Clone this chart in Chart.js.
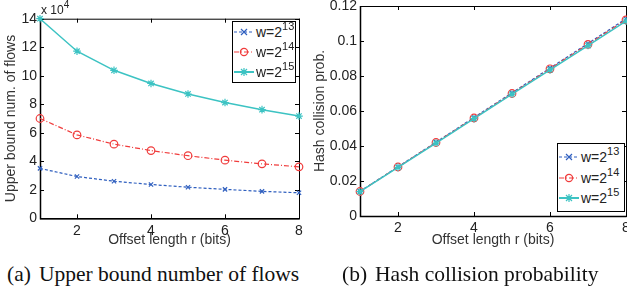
<!DOCTYPE html>
<html lang="en">
<head>
<meta charset="UTF-8">
<title>Upper bound flows / hash collision probability</title>
<script src="https://cdn.jsdelivr.net/npm/chart.js"></script>
<style>
  body {
    margin: 0;
    width: 627px;
    height: 295px;
    overflow: hidden;
    position: relative;
    background: #fff;
    font-family: Arial, 'Liberation Sans', sans-serif;
    color: #222;
  }
  canvas { position: absolute; top: -10px; }
  #flowsChart { left: 0; }
  #collChart { left: 306px; }
  .legend {
    position: absolute;
    background: #fff;
    border: 1px solid #000;
    box-sizing: border-box;
    z-index: 2;
  }
  .legend .row {
    position: absolute;
    left: 1px;
    height: 20px;
    display: flex;
    align-items: center;
    font-size: 14px;
    white-space: nowrap;
  }
  .legend svg { margin-right: 2px; }
  sup { font-size: 11px; line-height: 0; position: relative; top: -1px; }
  .scale-note {
    position: absolute;
    left: 41px;
    top: 3px;
    font-size: 12px;
    color: #222;
  }
  .scale-note sup { font-size: 10px; }
  .caption {
    position: absolute;
    top: 263.5px;
    font-family: 'Times New Roman', 'Liberation Serif', serif;
    font-size: 21.5px;
    line-height: 21.5px;
    color: #111;
    white-space: nowrap;
  }
  .caption .tag { margin-right: 8px; }
</style>
</head>
<body>

<canvas id="flowsChart" width="320" height="265"></canvas>
<canvas id="collChart" width="330" height="265"></canvas>

<div class="scale-note">x 10<sup>4</sup></div>

<div class="legend" id="legendA" style="left:232px; top:21px; width:64px; height:62px;"></div>
<div class="legend" id="legendB" style="left:557px; top:143px; width:68px; height:69px;"></div>

<div class="caption" style="left:7px;"><span class="tag">(a)</span>Upper bound number of flows</div>
<div class="caption" style="left:342px;"><span class="tag">(b)</span>Hash collision probability</div>

<script>
  // offset length r (bits)
  const rBits = [1, 2, 3, 4, 5, 6, 7, 8];
  const xTicks = [2, 4, 6, 8];

  // upper bound number of flows (x 10^4)
  const flowsW13 = [3.50, 2.93, 2.60, 2.37, 2.18, 2.03, 1.89, 1.79];
  const flowsW14 = [7.00, 5.85, 5.20, 4.75, 4.39, 4.08, 3.82, 3.61];
  const flowsW15 = [14.0, 11.72, 10.38, 9.46, 8.72, 8.12, 7.62, 7.17];

  // hash collision probability
  const collW13 = [0.0141, 0.0281, 0.0422, 0.0563, 0.0704, 0.0845, 0.0986, 0.1127];
  const collW14 = [0.0140, 0.0280, 0.0420, 0.0560, 0.0700, 0.0841, 0.0981, 0.1121];
  const collW15 = [0.0139, 0.0278, 0.0417, 0.0556, 0.0696, 0.0835, 0.0974, 0.1113];

  const seriesExp = ['13', '14', '15'];
  const seriesColor = ['#2f5fbf', '#f03c3c', '#3cc3c3'];
  const seriesDash = [[3, 2], [5, 2, 1, 2], []];
  const seriesPoint = ['crossRot', 'circle', 'star'];

  // box round the plot area with inward ticks on all four sides
  const framePlugin = {
    id: 'frame',
    beforeDatasetsDraw(chart) {
      const { ctx, chartArea: a, scales: { x, y } } = chart;
      const tl = 4;
      ctx.save();
      ctx.strokeStyle = '#000';
      ctx.lineWidth = 1;
      ctx.strokeRect(a.left + 0.5, a.top + 0.5, a.right - a.left, a.bottom - a.top);
      ctx.beginPath();
      x.ticks.forEach(t => {
        const px = Math.round(x.getPixelForValue(t.value)) + 0.5;
        ctx.moveTo(px, a.bottom); ctx.lineTo(px, a.bottom - tl);
        ctx.moveTo(px, a.top); ctx.lineTo(px, a.top + tl);
      });
      y.ticks.forEach(t => {
        const py = Math.round(y.getPixelForValue(t.value)) + 0.5;
        ctx.moveTo(a.left, py); ctx.lineTo(a.left + tl, py);
        ctx.moveTo(a.right, py); ctx.lineTo(a.right - tl, py);
      });
      ctx.stroke();
      ctx.lineWidth = 1.5;
      ctx.beginPath();
      ctx.moveTo(a.left + 0.5, a.top);
      ctx.lineTo(a.left + 0.5, a.bottom + 0.5);
      ctx.lineTo(a.right + 0.5, a.bottom + 0.5);
      ctx.stroke();
      ctx.restore();
    }
  };

  function makeDatasets(values) {
    return values.map((vals, i) => ({
      label: 'w=2^' + seriesExp[i],
      data: rBits.map((r, k) => ({ x: r, y: vals[k] })),
      borderColor: seriesColor[i],
      backgroundColor: 'rgba(0,0,0,0)',
      borderWidth: i === 2 ? 1.5 : 1.2,
      borderDash: seriesDash[i],
      pointStyle: seriesPoint[i],
      pointRadius: i === 0 ? 3 : 3.8,
      pointBorderColor: seriesColor[i],
      pointBorderWidth: 1.2,
      tension: 0,
      clip: false,
      order: 2 - i
    }));
  }

  function makeOptions(cfg) {
    return {
      responsive: false,
      animation: false,
      layout: { padding: cfg.padding },
      plugins: { legend: { display: false }, tooltip: { enabled: false } },
      scales: {
        x: {
          type: 'linear', min: 1, max: 8,
          afterBuildTicks: s => { s.ticks = xTicks.map(v => ({ value: v })); },
          afterFit: s => { s.height = cfg.xHeight; },
          grid: { display: false, drawTicks: false },
          border: { display: false },
          ticks: { padding: 4, color: '#222', font: { size: 14 }, maxRotation: 0, autoSkip: false },
          title: {
            display: true, text: 'Offset length r (bits)', color: '#333',
            font: { size: 14 }, padding: { top: 0, bottom: 6.6 }
          }
        },
        y: {
          min: 0, max: cfg.yMax,
          afterFit: s => { s.width = cfg.yWidth; },
          grid: { display: false, drawTicks: false },
          border: { display: false },
          ticks: { stepSize: cfg.yStep, padding: 3, color: '#222', font: { size: 14 }, callback: cfg.yFormat },
          title: {
            display: true, text: cfg.yTitle, color: '#333',
            font: { size: 14 }, padding: { top: cfg.yTitlePad, bottom: 0 }
          }
        }
      }
    };
  }

  new Chart(document.getElementById('flowsChart'), {
    type: 'line',
    data: { datasets: makeDatasets([flowsW13, flowsW14, flowsW15]) },
    options: makeOptions({
      padding: { top: 28.7, right: 21, bottom: 0, left: 0 },
      xHeight: 36.7, yWidth: 40, yMax: 14, yStep: 2,
      yFormat: v => String(v),
      yTitle: 'Upper bound num. of flows', yTitlePad: 2.6
    }),
    plugins: [framePlugin]
  });

  new Chart(document.getElementById('collChart'), {
    type: 'line',
    data: { datasets: makeDatasets([collW13, collW14, collW15]) },
    options: makeOptions({
      padding: { top: 16, right: 10, bottom: 0, left: 0 },
      xHeight: 39, yWidth: 54, yMax: 0.12, yStep: 0.02,
      yFormat: v => String(+v.toFixed(2)),
      yTitle: 'Hash collision prob.', yTitlePad: 5.6
    }),
    plugins: [framePlugin]
  });

  // legend samples: short line with the marker in the middle
  function markerSvg(i) {
    const c = seriesColor[i];
    const dash = seriesDash[i].join(' ');
    let m = '';
    if (seriesPoint[i] === 'crossRot') {
      m = `<path d="M7 2 L13 8 M13 2 L7 8" stroke="${c}" stroke-width="1.2"/>`;
    } else if (seriesPoint[i] === 'circle') {
      m = `<circle cx="10" cy="5" r="3.6" fill="none" stroke="${c}" stroke-width="1.2"/>`;
    } else {
      m = `<path d="M10 1 L10 9 M6 5 L14 5 M7 2 L13 8 M13 2 L7 8" stroke="${c}" stroke-width="1.2"/>`;
    }
    return `<svg width="20" height="10" viewBox="0 0 20 10">` +
      `<line x1="0" y1="5" x2="20" y2="5" stroke="${c}" stroke-width="${i === 2 ? 2 : 1.2}" stroke-dasharray="${dash}"/>` +
      m + `</svg>`;
  }

  function buildLegend(id, firstTop, step) {
    const box = document.getElementById(id);
    seriesExp.forEach((e, i) => {
      const row = document.createElement('div');
      row.className = 'row';
      row.style.top = (firstTop + i * step) + 'px';
      row.innerHTML = markerSvg(i) + `<span>w=2<sup>${e}</sup></span>`;
      box.appendChild(row);
    });
  }

  buildLegend('legendA', 0, 20);
  buildLegend('legendB', 3, 20.5);
</script>
</body>
</html>
